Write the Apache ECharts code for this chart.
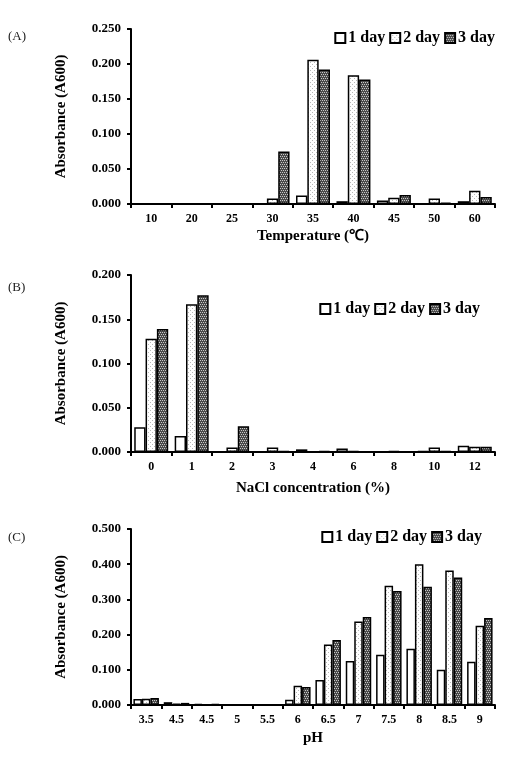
<!DOCTYPE html>
<html>
<head>
<meta charset="utf-8">
<script src="https://cdn.jsdelivr.net/npm/echarts@6/dist/echarts.min.js"></script>
<style>
  html, body { margin: 0; padding: 0; background: #fff; }
  #chart { width: 505px; height: 759px; }
</style>
</head>
<body>
<div id="chart"></div>
<script>
// 数据
var dayNames = ['1 day', '2 day', '3 day'];

var tempCats = ['10', '20', '25', '30', '35', '40', '45', '50', '60'];
var temp1 = [0.001, 0, 0, 0, 0.012, 0.004, 0.005, 0.001, 0.004];
var temp2 = [0, 0, 0, 0.008, 0.206, 0.184, 0.009, 0.008, 0.019];
var temp3 = [0.001, 0, 0, 0.075, 0.192, 0.178, 0.013, 0.002, 0.010];

var naclCats = ['0', '1', '2', '3', '4', '6', '8', '10', '12'];
var nacl1 = [0.028, 0.018, 0, 0, 0.003, 0.004, 0, 0.001, 0.007];
var nacl2 = [0.128, 0.167, 0.005, 0.005, 0, 0.001, 0.001, 0.005, 0.006];
var nacl3 = [0.139, 0.177, 0.029, 0.001, 0.001, 0, 0, 0.001, 0.006];

var phCats = ['3.5', '4.5', '4.5', '5', '5.5', '6', '6.5', '7', '7.5', '8', '8.5', '9'];
var ph1 = [0.017, 0.008, 0.003, 0.002, 0.001, 0.015, 0.071, 0.125, 0.143, 0.160, 0.100, 0.123];
var ph2 = [0.018, 0.004, 0.002, 0.001, 0.001, 0.055, 0.172, 0.237, 0.339, 0.400, 0.382, 0.225];
var ph3 = [0.020, 0.006, 0.003, 0, 0.002, 0.051, 0.185, 0.250, 0.324, 0.336, 0.362, 0.247];

var yTicksA = [0, 0.25, 0.05];
var yTicksB = [0, 0.2, 0.05];
var yTicksC = [0, 0.5, 0.1];

// 填充图案
function makePattern(bg, fg, cells) {
    var c = document.createElement('canvas');
    c.width = 4; c.height = 4;
    var ctx = c.getContext('2d');
    ctx.fillStyle = bg;
    ctx.fillRect(0, 0, 4, 4);
    ctx.fillStyle = fg;
    cells.forEach(function (p) { ctx.fillRect(p[0], p[1], 1, 1); });
    return { image: c, repeat: 'repeat' };
}
var fill1 = '#ffffff';
var fill2 = makePattern('#ffffff', '#b8b8b8', [[0, 0], [2, 2]]);
var fill3 = makePattern('#4a4a4a', '#c8c8c8', [[0, 0], [2, 0], [1, 2], [3, 2]]);
var fills = [fill1, fill2, fill3];

var font = "'Times New Roman', 'Liberation Serif', serif";
var grids = [
    { left: 131, right: 10, top: 29, height: 175 },
    { left: 131, right: 10, top: 275, height: 177 },
    { left: 131, right: 10, top: 529, height: 176 }
];

function xAxis(idx, cats, name, gap) {
    return {
        type: 'category', gridIndex: idx, data: cats,
        name: name, nameLocation: 'middle', nameGap: gap,
        nameTextStyle: { fontFamily: font, fontWeight: 'bold', fontSize: 15, color: '#000' },
        axisLine: { lineStyle: { color: '#000', width: 2 } },
        axisTick: { show: true, inside: false, length: 4, lineStyle: { color: '#000', width: 2 } },
        axisLabel: { fontFamily: font, fontWeight: 'bold', fontSize: 12, color: '#000', margin: 9 },
        splitLine: { show: false }
    };
}
function yAxis(idx, ticks) {
    return {
        type: 'value', gridIndex: idx, min: ticks[0], max: ticks[1], interval: ticks[2],
        name: 'Absorbance (A600)', nameLocation: 'middle', nameGap: 62,
        nameTextStyle: { fontFamily: font, fontWeight: 'bold', fontSize: 15, color: '#000' },
        axisLine: { show: true, lineStyle: { color: '#000', width: 2 } },
        axisTick: { show: true, length: 4, lineStyle: { color: '#000', width: 2 } },
        axisLabel: {
            fontFamily: font, fontWeight: 'bold', fontSize: 13, color: '#000', margin: 10,
            formatter: function (v) { return v.toFixed(3); }
        },
        splitLine: { show: false }
    };
}
function bars(idx, arrs) {
    return arrs.map(function (d, i) {
        return {
            name: dayNames[i], type: 'bar', xAxisIndex: idx, yAxisIndex: idx,
            data: d, barGap: '0%', barCategoryGap: '16%',
            itemStyle: { color: fills[i], borderColor: '#000', borderWidth: 1.5 }
        };
    });
}
function legend(top, right) {
    return {
        data: dayNames, top: top, right: right, icon: 'rect',
        itemWidth: 10, itemHeight: 10, itemGap: 4,
        textStyle: { fontFamily: font, fontWeight: 'bold', fontSize: 16, color: '#000', padding: [0, 0, 0, -2] }
    };
}

var myChart = echarts.init(document.getElementById('chart'));
var option = {
    animation: false,
    backgroundColor: '#fff',
    title: [
        { text: '(A)', left: 3, top: 25, textStyle: { fontFamily: font, fontWeight: 'normal', fontSize: 13, color: '#222' } },
        { text: '(B)', left: 3, top: 276, textStyle: { fontFamily: font, fontWeight: 'normal', fontSize: 13, color: '#222' } },
        { text: '(C)', left: 3, top: 526, textStyle: { fontFamily: font, fontWeight: 'normal', fontSize: 13, color: '#222' } }
    ],
    legend: [legend(25, 5), legend(296, 20), legend(524, 18)],
    grid: grids,
    xAxis: [
        xAxis(0, tempCats, 'Temperature (℃)', 25),
        xAxis(1, naclCats, 'NaCl concentration (%)', 29),
        xAxis(2, phCats, 'pH', 26)
    ],
    yAxis: [yAxis(0, yTicksA), yAxis(1, yTicksB), yAxis(2, yTicksC)],
    series: [].concat(
        bars(0, [temp1, temp2, temp3]),
        bars(1, [nacl1, nacl2, nacl3]),
        bars(2, [ph1, ph2, ph3])
    )
};
myChart.setOption(option);
</script>
</body>
</html>
